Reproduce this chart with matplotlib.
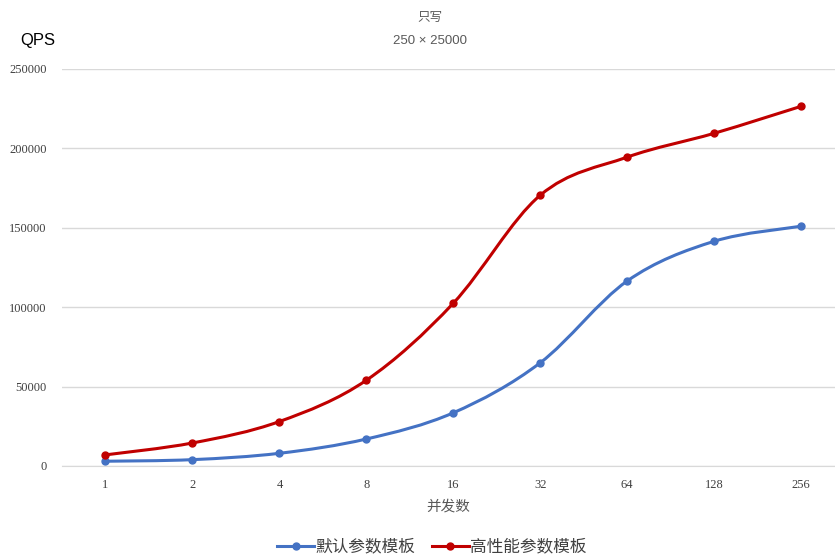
import numpy as np
import matplotlib.pyplot as plt
from matplotlib.path import Path
from matplotlib.patches import PathPatch
from matplotlib.lines import Line2D

plt.rcParams['font.family'] = ['Noto Sans CJK SC', 'DejaVu Sans']
latin = ['Liberation Sans', 'Noto Sans CJK SC']

# data
concurrency = ['1', '2', '4', '8', '16', '32', '64', '128', '256']
default_qps = [3000, 4000, 8000, 17000, 33500, 65000, 116500, 141500, 151000]
perf_qps = [7000, 14500, 28000, 54000, 102500, 170500, 194500, 209500, 226500]

blue = '#4472C4'
red = '#C00000'


def smooth_path(x, y, t=1/6):
    # Excel-like smoothed line: cubic bezier between points
    x = np.asarray(x, float)
    y = np.asarray(y, float)
    n = len(x)
    verts = [(x[0], y[0])]
    codes = [Path.MOVETO]
    for i in range(n - 1):
        x0, y0 = (x[i - 1], y[i - 1]) if i > 0 else (x[i], y[i])
        x3, y3 = (x[i + 2], y[i + 2]) if i + 2 < n else (x[i + 1], y[i + 1])
        c1 = (x[i] + (x[i + 1] - x0) * t, y[i] + (y[i + 1] - y0) * t)
        c2 = (x[i + 1] - (x3 - x[i]) * t, y[i + 1] - (y3 - y[i]) * t)
        verts += [c1, c2, (x[i + 1], y[i + 1])]
        codes += [Path.CURVE4] * 3
    return Path(verts, codes)


fig = plt.figure(figsize=(8.35, 5.57), dpi=100)
ax = fig.add_axes([62 / 835, 91 / 557, 773 / 835, 397 / 557])

xs = np.arange(len(concurrency))
for vals, col in [(default_qps, blue), (perf_qps, red)]:
    ax.add_patch(PathPatch(smooth_path(xs, vals), facecolor='none',
                           edgecolor=col, lw=2.2, capstyle='round', zorder=3))
    ax.plot(xs, vals, 'o', color=col, ms=5, zorder=4)

ax.set_xlim(-0.5, 8.39)
ax.set_ylim(0, 250000)
ax.set_yticks(np.arange(0, 250001, 50000))
ax.set_xticks(xs)
ax.set_xticklabels(concurrency)
ax.grid(axis='y', color='#d9d9d9', lw=1)
ax.set_axisbelow(True)
for s in ['top', 'right', 'left']:
    ax.spines[s].set_visible(False)
ax.spines['bottom'].set_color('#d9d9d9')
ax.tick_params(length=0, labelsize=9, labelcolor='#404040')
ax.tick_params(axis='x', pad=9)
ax.tick_params(axis='y', pad=11)
for lab in ax.get_xticklabels() + ax.get_yticklabels():
    lab.set_fontfamily('Liberation Serif')

fig.text(430 / 835, 1 - 17 / 557, '只写', ha='center', va='center',
         fontsize=9, color='#595959')
fig.text(430 / 835, 1 - 41 / 557, '250 × 25000', ha='center', va='center',
         fontsize=9.5, color='#595959', family=latin)
fig.text(38 / 835, 1 - 40 / 557, 'QPS', ha='center', va='center',
         fontsize=12, color='black', family=latin)
fig.text(448 / 835, 1 - 507 / 557, '并发数', ha='center', va='center',
         fontsize=10.5, color='#595959')

handles = [Line2D([], [], color=blue, lw=2.2, marker='o', ms=5),
           Line2D([], [], color=red, lw=2.2, marker='o', ms=5)]
fig.legend(handles, ['默认参数模板', '高性能参数模板'], loc='center',
           bbox_to_anchor=(432 / 835, 1 - 547 / 557), ncol=2, frameon=False,
           fontsize=12, handlelength=2.2, handletextpad=0.1, columnspacing=1.0,
           labelcolor='#404040')

fig.savefig('out.png', dpi=100)
